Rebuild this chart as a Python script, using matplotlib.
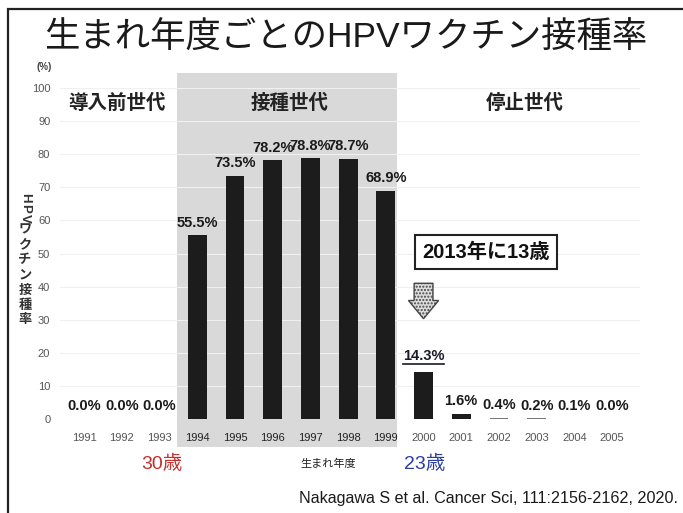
import numpy as np
import matplotlib
matplotlib.use("Agg")
import matplotlib.pyplot as plt
from matplotlib.patches import Rectangle, Polygon

plt.rcParams['font.family'] = ['Liberation Sans', 'Noto Sans CJK JP', 'DejaVu Sans']
plt.rcParams['hatch.color'] = '#555555'

# data
years = np.arange(1991, 2006)
rates = [0.0, 0.0, 0.0, 55.5, 73.5, 78.2, 78.8, 78.7, 68.9, 14.3, 1.6, 0.4, 0.2, 0.1, 0.0]
groups = ['導入前世代', '接種世代', '停止世代']
title = '生まれ年度ごとのHPVワクチン接種率'
ylabel_chars = list('HPVワクチン接種率')

W, H = 683, 513
fig = plt.figure(figsize=(W / 100, H / 100), dpi=100)


def px(x, y):
    # pixel position (from top-left) -> figure fraction
    return x / W, 1 - y / H


# slide frame
fig.patches.append(Rectangle(px(8, 520), (700 - 8) / W, (520 - 9) / H,
                             transform=fig.transFigure, fill=False,
                             edgecolor='#222222', linewidth=1.6))

ax = fig.add_axes([60 / W, (H - 419) / H, 580 / W, 331 / H])
ax.set_xlim(1990.36, 2005.74)
ax.set_ylim(0, 100)

# shaded vaccinated generation
ax.add_patch(Rectangle((1993.45, -8.5), 5.85, 113, facecolor='#d9d9d9',
                       edgecolor='none', zorder=0, clip_on=False))

cols = ['#1c1c1c'] * len(years)
for i in (11, 12):
    cols[i] = '#777777'
ax.bar(years, rates, width=0.5, color=cols, zorder=3)

for yr, r in zip(years, rates):
    if yr == 2000:
        continue
    ax.annotate(f'{r:.1f}%', (yr, r), xytext=(0, 4), textcoords='offset points',
                ha='center', va='bottom', fontsize=10.5, fontweight='bold',
                color='#1a1a1a', zorder=5)

t143 = ax.annotate('14.3%', (2000, 14.3), xytext=(0, 6), textcoords='offset points',
                   ha='center', va='bottom', fontsize=10.5, fontweight='bold',
                   color='#1a1a2a', zorder=5)

ax.set_yticks(np.arange(0, 101, 10))
ax.set_xticks(years)
ax.set_xticklabels([str(y) for y in years])
ax.tick_params(axis='both', length=0, labelsize=8, labelcolor='#555555')
ax.tick_params(axis='x', pad=10)
ax.tick_params(axis='y', pad=7)
for lab, yr in zip(ax.get_xticklabels(), years):
    if 1994 <= yr <= 1999:
        lab.set_color('#222222')
ax.yaxis.grid(True, color='#f0f0f0', linewidth=0.8, zorder=1)
ax.set_axisbelow(True)
for s in ax.spines.values():
    s.set_visible(False)
ax.patch.set_alpha(0)

# group headings
for g, gx in zip(groups, [117, 290, 525]):
    fig.text(*px(gx, 103), g, ha='center', va='center', fontsize=14,
             fontweight='bold', color='#222222')

# box and arrow
fig.text(*px(486, 252), '2013年に13歳', ha='center', va='center', fontsize=14.5,
         fontweight='bold', color='#111111',
         bbox=dict(boxstyle='square,pad=0.35', facecolor='white',
                   edgecolor='#222222', linewidth=1.5))
arrow = Polygon([(1999.75, 41), (2000.25, 41), (2000.25, 35.8), (2000.4, 35.8),
                 (2000.0, 30.3), (1999.6, 35.8), (1999.75, 35.8)],
                closed=True, facecolor='#dddddd', edgecolor='#444444',
                hatch='.....', linewidth=1.0, zorder=6, clip_on=False)
ax.add_patch(arrow)

fig.text(*px(44, 67), '(%)', ha='center', va='center', fontsize=7,
         fontweight='bold', color='#444444')
fig.text(*px(346, 38), title, ha='center', va='center', fontsize=25.5,
         color='#1a1a1a')

# vertical y label
yy = 193
for ch in ylabel_chars:
    if ch.isascii():
        fig.text(*px(25, yy + 5), ch, ha='center', va='center', rotation=-90,
                 fontsize=9.5, fontweight='bold', color='#333333')
        yy += 10
    else:
        fig.text(*px(25, yy + 7.5), ch, ha='center', va='center', fontsize=9.5,
                 fontweight='bold', color='#333333')
        yy += 15

fig.text(*px(162, 464), '30歳', ha='center', va='center', fontsize=14,
         color='#c0302c')
fig.text(*px(328, 464), '生まれ年度', ha='center', va='center', fontsize=8,
         color='#222222')
fig.text(*px(425, 464), '23歳', ha='center', va='center', fontsize=14,
         color='#2b3f98')
fig.text(*px(678, 499), 'Nakagawa S et al. Cancer Sci, 111:2156-2162, 2020.',
         ha='right', va='center', fontsize=11.6, color='#1a1a1a')

# underline for 14.3%
fig.canvas.draw()
bb = t143.get_window_extent()
fig.add_artist(plt.Line2D([bb.x0 / W, bb.x1 / W], [(bb.y0 - 1) / H, (bb.y0 - 1) / H],
                          transform=fig.transFigure, color='#1a1a2a', linewidth=1.2))

fig.savefig('out.png', dpi=100)
